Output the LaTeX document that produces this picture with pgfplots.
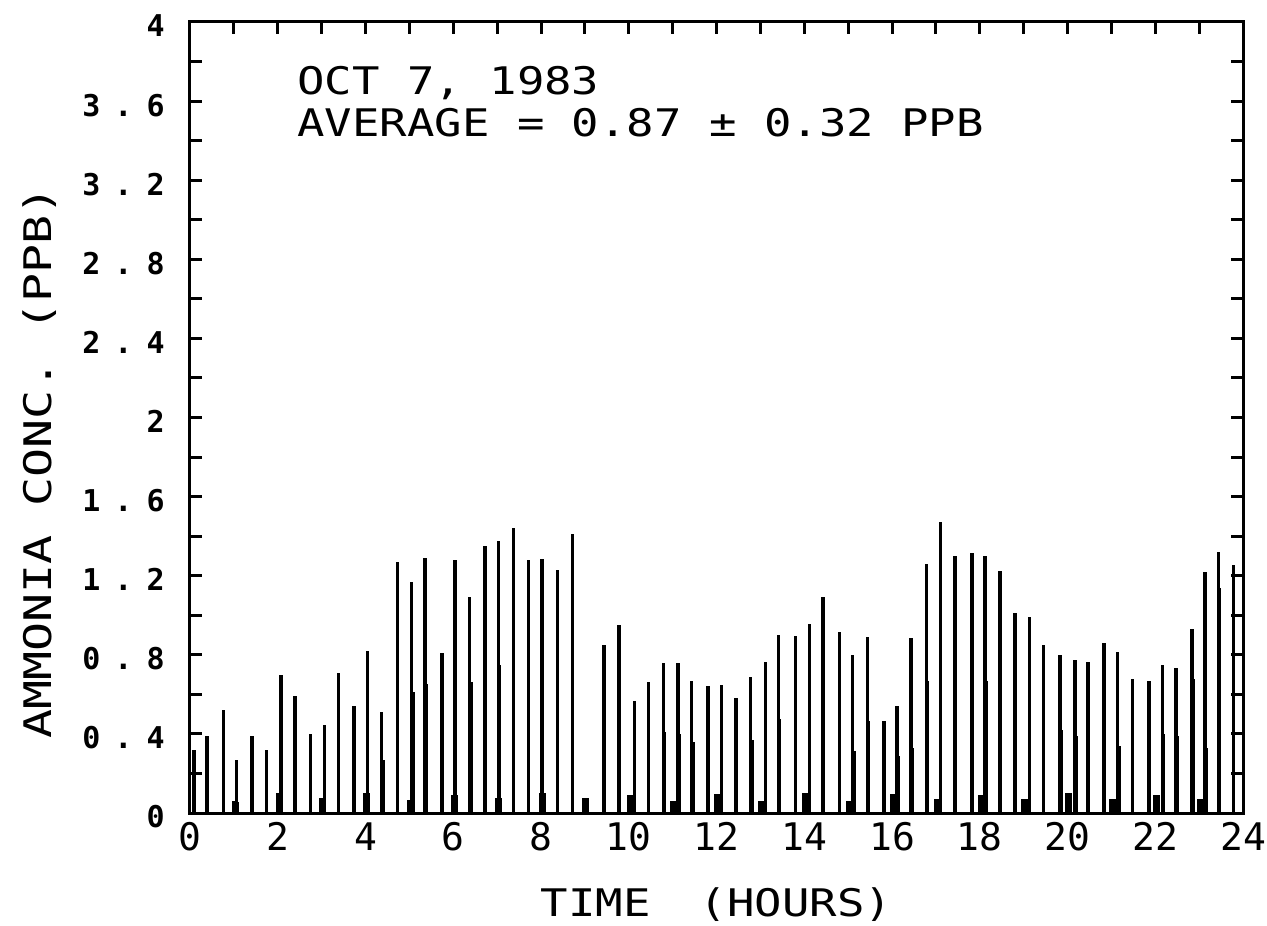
\documentclass[border=0pt]{standalone}
\usepackage{fontspec}
\usepackage{pgfplots}
\pgfplotsset{compat=1.18}
\setmainfont{DejaVu Sans Mono}
\newfontfamily\plotfont[FakeStretch=1.2]{DejaVu Sans Mono}
\newfontfamily\ylabfont[FakeStretch=1.27]{DejaVu Sans Mono}
\newcommand{\yt}[2]{#1\hspace{7pt}.\hspace{7pt}#2}

\pgfplotstableread{
t v
0.09 0.32
0.39 0.39
0.76 0.52
1.06 0.27
1.41 0.39
1.75 0.32
2.07 0.70
2.39 0.59
2.74 0.40
3.06 0.445
3.38 0.71
3.74 0.54
4.05 0.82
4.37 0.51
4.73 1.27
5.05 1.17
5.36 1.29
5.74 0.81
6.04 1.28
6.37 1.09
6.72 1.35
7.03 1.375
7.37 1.44
7.71 1.28
8.02 1.285
8.37 1.23
8.72 1.41
9.44 0.85
9.78 0.95
10.13 0.566
10.45 0.66
10.79 0.757
11.12 0.76
11.43 0.67
11.81 0.64
12.12 0.646
12.44 0.58
12.78 0.69
13.12 0.765
13.41 0.90
13.80 0.895
14.12 0.954
14.43 1.094
14.81 0.914
15.10 0.80
15.44 0.89
15.82 0.465
16.11 0.54
16.43 0.883
16.78 1.26
17.11 1.473
17.44 1.30
17.82 1.313
18.12 1.30
18.46 1.224
18.80 1.01
19.13 0.993
19.45 0.85
19.83 0.80
20.17 0.774
20.47 0.765
20.83 0.86
21.14 0.816
21.48 0.68
21.86 0.67
22.16 0.75
22.47 0.735
22.84 0.93
23.13 1.22
23.44 1.32
23.78 1.254
}\mainbars

\pgfplotstableread{
t v
4.40 0.27
5.08 0.61
5.39 0.65
6.40 0.66
7.06 0.75
10.82 0.41
11.15 0.40
11.46 0.36
12.81 0.37
13.44 0.475
15.13 0.315
15.47 0.465
16.14 0.29
16.46 0.33
16.81 0.67
18.15 0.67
19.86 0.42
20.20 0.39
21.17 0.34
22.19 0.40
22.50 0.39
22.87 0.68
23.16 0.33
23.47 1.14
}\secbars

\pgfplotstableread{
t v
1.03 0.057
2.03 0.10
3.03 0.076
4.03 0.10
5.03 0.067
6.03 0.09
7.03 0.076
8.03 0.10
9.02 0.074
10.03 0.09
11.03 0.06
12.03 0.096
13.03 0.06
14.03 0.10
15.03 0.06
16.03 0.096
17.03 0.07
18.03 0.09
19.03 0.07
20.03 0.10
21.03 0.07
22.03 0.09
23.03 0.07
}\blips

\begin{document}
\begin{tikzpicture}
\begin{axis}[
  scale only axis, width=526.5pt, height=395.5pt,
  xmin=0, xmax=24, ymin=0, ymax=4,
  axis line style={line width=1.5pt},
  every tick/.style={line width=1.5pt, black},
  major tick length=6pt, minor tick length=6pt,
  tick align=inside,
  xtick={0,2,4,6,8,10,12,14,16,18,20,22,24},
  xticklabels={0,2,4,6,8,10,12,14,16,18,20,22,24},
  minor xtick={1,3,5,7,9,11,13,15,17,19,21,23},
  ytick={0,0.4,0.8,1.2,1.6,2,2.4,2.8,3.2,3.6,4},
  yticklabels={0,\yt{0}{4},\yt{0}{8},\yt{1}{2},\yt{1}{6},2,\yt{2}{4},\yt{2}{8},\yt{3}{2},\yt{3}{6},4},
  minor ytick={0.2,0.6,1.0,1.4,1.8,2.2,2.6,3.0,3.4,3.8},
  xticklabel style={font=\fontsize{19}{19}\selectfont, anchor=north, inner sep=0pt, yshift=-4.5pt},
  yticklabel style={font=\fontsize{15}{15}\selectfont\bfseries, anchor=east, inner sep=0pt, xshift=-12.5pt, yshift=-2pt},
  xlabel={TIME\hspace{1.3em}(HOURS)},
  ylabel={AMMONIA CONC. (PPB)},
  xlabel style={font=\plotfont\fontsize{19}{19}\selectfont, at={(axis description cs:0.5,-0.116)}, anchor=center, inner sep=0pt},
  ylabel style={font=\ylabfont\fontsize{19}{19}\selectfont, at={(axis description cs:-0.1425,0.443)}, anchor=center, inner sep=0pt},
]
\addplot[ycomb, black, line width=1.7pt, mark=none] table[x=t,y=v] {\mainbars};
\addplot[ycomb, black, line width=1.7pt, mark=none] table[x=t,y=v] {\secbars};
\addplot[ycomb, black, line width=3.5pt, mark=none] table[x=t,y=v] {\blips};
\node[anchor=north west, inner sep=0pt, align=left, font=\plotfont\fontsize{19}{21}\selectfont] at (axis cs:2.44,3.78) {OCT 7, 1983\\AVERAGE = 0.87 ± 0.32 PPB};
\end{axis}
\pgfresetboundingbox
\path[use as bounding box] ([xshift=-95pt,yshift=-56pt]current axis.south west) rectangle ([xshift=12pt,yshift=11pt]current axis.north east);
\end{tikzpicture}
\end{document}
